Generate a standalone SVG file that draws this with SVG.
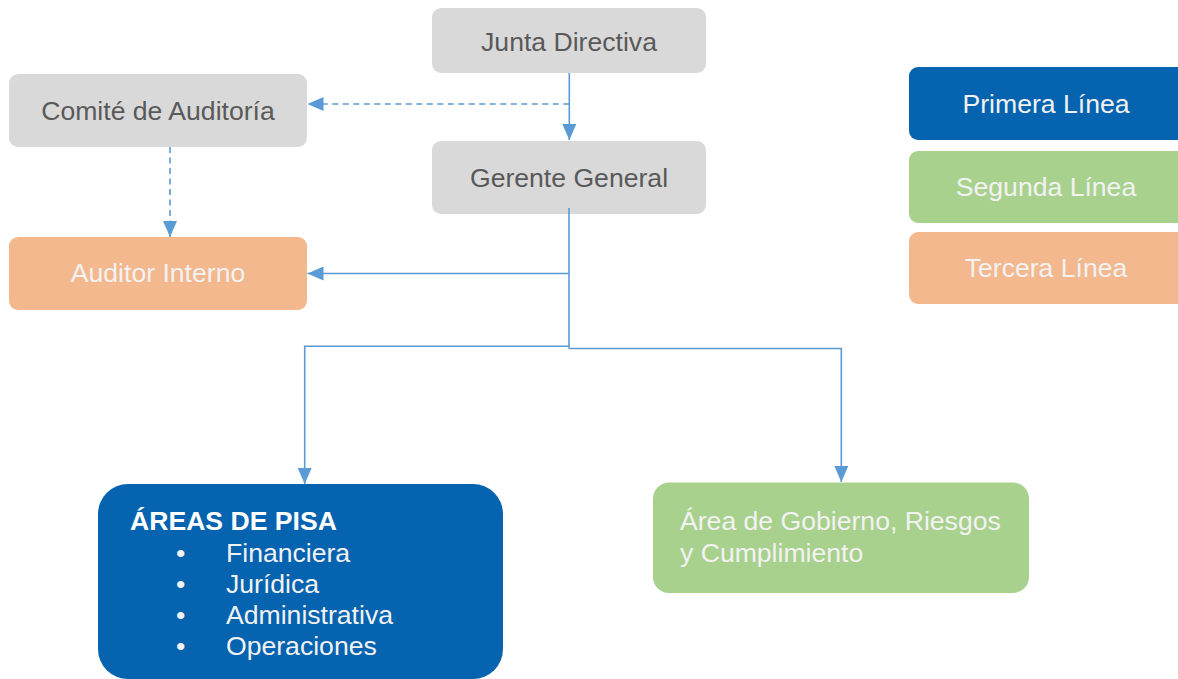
<svg xmlns="http://www.w3.org/2000/svg" width="1178" height="679" viewBox="0 0 1178 679">
<defs>
<style>
.gray{fill:#D9D9D9}
.blue{fill:#0563AF}
.green{fill:#A9D18E}
.orange{fill:#F4B88E}
.t{font-family:"Liberation Sans",Arial,sans-serif;font-size:26.6px}
.dark{fill:#595959}
.light{fill:#F2F2F2}
.w{fill:#FFFFFF}
.ln{fill:none;stroke:#5B9BD5;stroke-width:1.6}
.dash{stroke-dasharray:6 4.5}
</style>
<marker id="ah" viewBox="0 0 16 14" refX="16" refY="7" markerWidth="16" markerHeight="14" markerUnits="userSpaceOnUse" orient="auto">
<path d="M0,0 L16,7 L0,14 Z" fill="#5B9BD5"/>
</marker>
</defs>
<rect width="1178" height="679" fill="#FFFFFF"/>
<g id="junta"><rect class="gray" x="432" y="8" width="274" height="65" rx="9"/><text class="t dark" x="569" y="51" text-anchor="middle">Junta Directiva</text></g>
<g id="comite"><rect class="gray" x="9" y="74" width="298" height="73" rx="9"/><text class="t dark" x="158" y="120" text-anchor="middle">Comité de Auditoría</text></g>
<g id="gerente"><rect class="gray" x="432" y="141" width="274" height="73" rx="9"/><text class="t dark" x="569" y="187" text-anchor="middle">Gerente General</text></g>
<g id="auditor"><rect class="orange" x="9" y="237" width="298" height="73" rx="9"/><text class="t light" x="158" y="282" text-anchor="middle">Auditor Interno</text></g>
<g id="areas"><rect class="blue" x="98" y="484" width="405" height="195" rx="30"/>
<text class="t w" x="130" y="530" font-weight="bold">ÁREAS DE PISA</text>
<text class="t light" x="176" y="562">•</text><text class="t light" x="226" y="562">Financiera</text>
<text class="t light" x="176" y="593">•</text><text class="t light" x="226" y="593">Jurídica</text>
<text class="t light" x="176" y="624">•</text><text class="t light" x="226" y="624">Administrativa</text>
<text class="t light" x="176" y="655">•</text><text class="t light" x="226" y="655">Operaciones</text>
</g>
<g id="gobierno"><rect class="green" x="653" y="482.5" width="376" height="110.5" rx="16"/>
<text class="t light" x="680" y="530">Área de Gobierno, Riesgos</text>
<text class="t light" x="680" y="562">y Cumplimiento</text>
</g>
<g id="legend-primera"><rect class="blue" x="909" y="67" width="278" height="73" rx="9"/><text class="t light" x="1046" y="113" text-anchor="middle">Primera Línea</text></g>
<g id="legend-segunda"><rect class="green" x="909" y="151" width="278" height="72" rx="9"/><text class="t light" x="1046" y="196" text-anchor="middle">Segunda Línea</text></g>
<g id="legend-tercera"><rect class="orange" x="909" y="232" width="278" height="72" rx="9"/><text class="t light" x="1046" y="277" text-anchor="middle">Tercera Línea</text></g>
<g id="connectors">
<path class="ln" d="M569.3,73 V140" marker-end="url(#ah)"/>
<path class="ln dash" d="M569.3,104 H307.5" marker-end="url(#ah)"/>
<path class="ln dash" d="M170,147 V237" marker-end="url(#ah)"/>
<path class="ln" d="M569,208 V348.5"/>
<path class="ln" d="M569,273.5 H307.5" marker-end="url(#ah)"/>
<path class="ln" d="M569,346.3 H304.7 V484" marker-end="url(#ah)"/>
<path class="ln" d="M569,348.5 H841.3 V482" marker-end="url(#ah)"/>
</g>
</svg>
